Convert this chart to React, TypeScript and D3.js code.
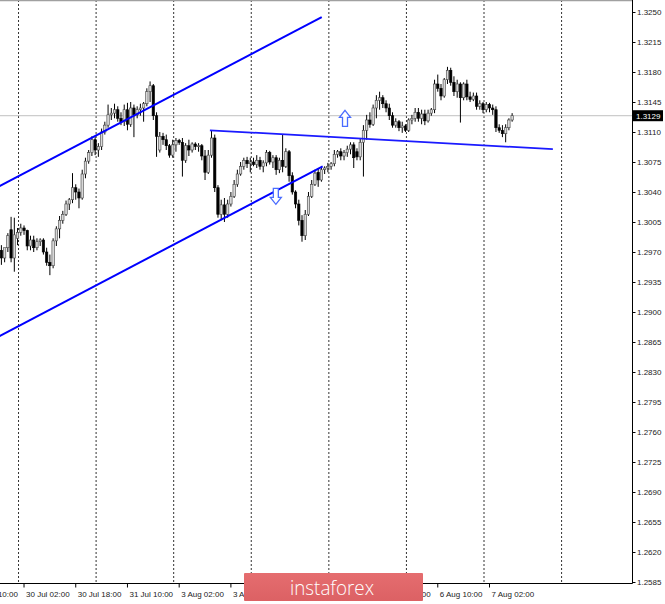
import React from 'react';
import * as d3 from 'd3';

const FIRST_BAR = 8;
const opens = [
  1.2978, 1.2972, 1.2963, 1.2975, 1.2996, 1.2963, 1.2986, 1.2993, 1.2998, 1.2995,
  1.2977, 1.2984, 1.2975, 1.2982, 1.2984, 1.2970, 1.2958, 1.2954, 1.2983, 1.2997,
  1.3007, 1.3014, 1.3026, 1.3031, 1.3045, 1.3040, 1.3033, 1.3061, 1.3076, 1.3086,
  1.3101, 1.3089, 1.3093, 1.3110, 1.3118, 1.3130, 1.3132, 1.3136, 1.3126, 1.3122,
  1.3136, 1.3119, 1.3138, 1.3130, 1.3136, 1.3138, 1.3143, 1.3157, 1.3164, 1.3129,
  1.3089, 1.3105, 1.3101, 1.3094, 1.3083, 1.3095, 1.3100, 1.3098, 1.3077, 1.3094,
  1.3089, 1.3096, 1.3093, 1.3094, 1.3082, 1.3063, 1.3083, 1.3103, 1.3045, 1.3014,
  1.3025, 1.3014, 1.3026, 1.3035, 1.3049, 1.3061, 1.3070, 1.3077, 1.3073, 1.3075,
  1.3072, 1.3077, 1.3070, 1.3074, 1.3086, 1.3075, 1.3080, 1.3066, 1.3077, 1.3070,
  1.3087, 1.3059, 1.3040, 1.3026, 1.3007, 1.2989, 1.3014, 1.3035, 1.3049, 1.3063,
  1.3054, 1.3066, 1.3068, 1.3070, 1.3073, 1.3084, 1.3087, 1.3082, 1.3086, 1.3090,
  1.3095, 1.3087, 1.3081, 1.3098, 1.3112, 1.3124, 1.3119, 1.3138, 1.3147, 1.3150,
  1.3143, 1.3138, 1.3129, 1.3118, 1.3122, 1.3115, 1.3117, 1.3112, 1.3124, 1.3126,
  1.3133, 1.3126, 1.3131, 1.3123, 1.3132, 1.3136, 1.3166, 1.3161, 1.3152, 1.3171,
  1.3182, 1.3168, 1.3157, 1.3166, 1.3150, 1.3166, 1.3151, 1.3148, 1.3152, 1.3140,
  1.3143, 1.3136, 1.3142, 1.3138, 1.3136, 1.3115, 1.3112, 1.3108, 1.3115, 1.3124,
];
const highs = [
  1.2984, 1.2978, 1.2972, 1.2992, 1.3011, 1.3010, 1.2998, 1.3003, 1.3001, 1.2996,
  1.2989, 1.2989, 1.2986, 1.2986, 1.2986, 1.2975, 1.2967, 1.2986, 1.3000, 1.3012,
  1.3018, 1.3030, 1.3033, 1.3062, 1.3049, 1.3044, 1.3066, 1.3080, 1.3089, 1.3105,
  1.3104, 1.3097, 1.3114, 1.3122, 1.3142, 1.3138, 1.3143, 1.3140, 1.3133, 1.3142,
  1.3144, 1.3145, 1.3142, 1.3140, 1.3143, 1.3145, 1.3161, 1.3169, 1.3166, 1.3133,
  1.3110, 1.3109, 1.3107, 1.3096, 1.3101, 1.3103, 1.3102, 1.3103, 1.3097, 1.3101,
  1.3098, 1.3098, 1.3097, 1.3096, 1.3089, 1.3089, 1.3112, 1.3107, 1.3048, 1.3031,
  1.3033, 1.3031, 1.3040, 1.3054, 1.3066, 1.3075, 1.3080, 1.3081, 1.3080, 1.3080,
  1.3083, 1.3081, 1.3077, 1.3089, 1.3088, 1.3083, 1.3083, 1.3080, 1.3107, 1.3091,
  1.3089, 1.3063, 1.3042, 1.3031, 1.3013, 1.3019, 1.3040, 1.3054, 1.3066, 1.3068,
  1.3068, 1.3070, 1.3074, 1.3075, 1.3089, 1.3089, 1.3091, 1.3089, 1.3094, 1.3098,
  1.3098, 1.3091, 1.3103, 1.3118, 1.3130, 1.3133, 1.3142, 1.3153, 1.3157, 1.3153,
  1.3147, 1.3143, 1.3133, 1.3126, 1.3124, 1.3122, 1.3119, 1.3126, 1.3130, 1.3138,
  1.3138, 1.3136, 1.3136, 1.3136, 1.3138, 1.3171, 1.3177, 1.3166, 1.3173, 1.3186,
  1.3185, 1.3175, 1.3171, 1.3168, 1.3168, 1.3171, 1.3157, 1.3156, 1.3156, 1.3147,
  1.3145, 1.3145, 1.3144, 1.3142, 1.3140, 1.3119, 1.3118, 1.3119, 1.3126, 1.3132,
];
const lows = [
  1.2958, 1.2955, 1.2958, 1.2970, 1.2958, 1.2947, 1.2978, 1.2989, 1.2990, 1.2972,
  1.2972, 1.2970, 1.2972, 1.2977, 1.2967, 1.2954, 1.2943, 1.2951, 1.2977, 1.2986,
  1.3003, 1.3012, 1.3019, 1.3027, 1.3031, 1.3021, 1.3031, 1.3056, 1.3073, 1.3082,
  1.3083, 1.3081, 1.3089, 1.3107, 1.3115, 1.3124, 1.3126, 1.3122, 1.3118, 1.3117,
  1.3112, 1.3116, 1.3104, 1.3126, 1.3129, 1.3122, 1.3140, 1.3145, 1.3124, 1.3081,
  1.3086, 1.3095, 1.3089, 1.3080, 1.3080, 1.3087, 1.3095, 1.3058, 1.3074, 1.3082,
  1.3086, 1.3089, 1.3087, 1.3077, 1.3054, 1.3061, 1.3080, 1.3040, 1.3010, 1.3007,
  1.3005, 1.3010, 1.3023, 1.3033, 1.3046, 1.3059, 1.3066, 1.3068, 1.3063, 1.3070,
  1.3068, 1.3066, 1.3063, 1.3070, 1.3072, 1.3068, 1.3060, 1.3062, 1.3063, 1.3068,
  1.3052, 1.3037, 1.3021, 1.3001, 1.2982, 1.2984, 1.3012, 1.3033, 1.3047, 1.3046,
  1.3052, 1.3061, 1.3063, 1.3066, 1.3070, 1.3080, 1.3077, 1.3077, 1.3081, 1.3084,
  1.3068, 1.3077, 1.3077, 1.3058, 1.3101, 1.3115, 1.3117, 1.3126, 1.3136, 1.3138,
  1.3133, 1.3124, 1.3115, 1.3115, 1.3111, 1.3109, 1.3110, 1.3110, 1.3119, 1.3122,
  1.3122, 1.3119, 1.3118, 1.3121, 1.3129, 1.3132, 1.3157, 1.3147, 1.3150, 1.3166,
  1.3164, 1.3152, 1.3150, 1.3121, 1.3147, 1.3147, 1.3145, 1.3146, 1.3136, 1.3136,
  1.3132, 1.3133, 1.3133, 1.3130, 1.3110, 1.3109, 1.3104, 1.3098, 1.3112, 1.3122,
];
const closes = [
  1.2972, 1.2963, 1.2975, 1.2989, 1.2963, 1.2990, 1.2993, 1.2998, 1.2995, 1.2977,
  1.2984, 1.2975, 1.2982, 1.2984, 1.2970, 1.2958, 1.2954, 1.2983, 1.2997, 1.3007,
  1.3014, 1.3026, 1.3031, 1.3045, 1.3040, 1.3033, 1.3061, 1.3076, 1.3086, 1.3101,
  1.3089, 1.3093, 1.3110, 1.3118, 1.3130, 1.3132, 1.3136, 1.3126, 1.3122, 1.3136,
  1.3119, 1.3138, 1.3130, 1.3136, 1.3138, 1.3143, 1.3157, 1.3164, 1.3129, 1.3105,
  1.3105, 1.3101, 1.3094, 1.3083, 1.3095, 1.3100, 1.3098, 1.3077, 1.3094, 1.3089,
  1.3096, 1.3093, 1.3094, 1.3082, 1.3063, 1.3083, 1.3103, 1.3045, 1.3014, 1.3025,
  1.3014, 1.3026, 1.3035, 1.3049, 1.3061, 1.3070, 1.3077, 1.3073, 1.3075, 1.3072,
  1.3077, 1.3070, 1.3074, 1.3086, 1.3075, 1.3080, 1.3066, 1.3077, 1.3070, 1.3087,
  1.3059, 1.3040, 1.3026, 1.3007, 1.2989, 1.3014, 1.3035, 1.3049, 1.3062, 1.3054,
  1.3066, 1.3068, 1.3070, 1.3073, 1.3084, 1.3087, 1.3082, 1.3086, 1.3090, 1.3095,
  1.3080, 1.3081, 1.3098, 1.3112, 1.3124, 1.3119, 1.3138, 1.3147, 1.3150, 1.3143,
  1.3138, 1.3129, 1.3118, 1.3122, 1.3115, 1.3117, 1.3112, 1.3124, 1.3126, 1.3133,
  1.3126, 1.3131, 1.3123, 1.3132, 1.3136, 1.3166, 1.3161, 1.3152, 1.3171, 1.3182,
  1.3168, 1.3157, 1.3166, 1.3150, 1.3166, 1.3151, 1.3148, 1.3152, 1.3140, 1.3143,
  1.3136, 1.3142, 1.3138, 1.3136, 1.3115, 1.3112, 1.3108, 1.3115, 1.3124, 1.3129,
];

const timeLabels = [
  '29 Jul 10:00', '30 Jul 02:00', '30 Jul 18:00', '31 Jul 10:00', '3 Aug 02:00',
  '3 Aug 18:00', '4 Aug 10:00', '5 Aug 02:00', '5 Aug 18:00', '6 Aug 10:00', '7 Aug 02:00',
];
const timeLabelBars = [0, 16, 32, 48, 64, 80, 96, 112, 128, 144, 160];
const priceTicks = [
  1.3250, 1.3215, 1.3180, 1.3145, 1.3110, 1.3075, 1.3040, 1.3005, 1.2970, 1.2935,
  1.2900, 1.2865, 1.2830, 1.2795, 1.2760, 1.2725, 1.2690, 1.2655, 1.2620, 1.2585,
];
const lastPrice = 1.3129;
const channelUpper = [[8.0, 1.3046], [108.1, 1.3244]];
const channelLower = [[8.0, 1.2871], [108.4, 1.3070]];
const resistanceLine = [[73.5, 1.3112], [179.6, 1.3090]];
const upArrows = [{ bar: 115.3, price: 1.3126 }];
const downArrows = [{ bar: 93.9, price: 1.3035 }];
const gridBars = [14.3, 38.3, 62.3, 86.3, 110.3, 134.3, 158.3, 182.3];

const W = 665, H = 604;
const PLOT_R = 632.5, PLOT_B = 583.5;

export default function App() {
  const x = d3.scaleLinear().domain([0, 160]).range([-27.7, 489.5]);
  const y = d3.scaleLinear().domain([1.2585, 1.325]).range([582, 12]);
  const font = "'Liberation Sans', Arial, sans-serif";
  const line = d3.line<number[]>().x((d) => x(d[0])).y((d) => y(d[1]));
  const bodyW = 2.4;

  const arrowUp = (cx: number, cy: number) =>
    `M${cx},${cy - 8} L${cx + 5.5},${cy - 1} L${cx + 2.5},${cy - 1} L${cx + 2.5},${cy + 8} L${cx - 2.5},${cy + 8} L${cx - 2.5},${cy - 1} L${cx - 5.5},${cy - 1} Z`;
  const arrowDown = (cx: number, cy: number) =>
    `M${cx},${cy + 8} L${cx + 5.5},${cy + 1} L${cx + 2.5},${cy + 1} L${cx + 2.5},${cy - 8} L${cx - 2.5},${cy - 8} L${cx - 2.5},${cy + 1} L${cx - 5.5},${cy + 1} Z`;

  return (
    <svg width={W} height={H} style={{ position: 'absolute', left: 0, top: 0, background: '#fff' }}>
      <defs>
        <clipPath id="plot">
          <rect x={0} y={0} width={PLOT_R} height={PLOT_B} />
        </clipPath>
        <linearGradient id="logoGrad" x1="0" y1="0" x2="0" y2="1">
          <stop offset="0" stopColor="#e56d6f" />
          <stop offset="1" stopColor="#dc6164" />
        </linearGradient>
      </defs>
      <rect x={0} y={0} width={W} height={H} fill="#fff" />
      <g clipPath="url(#plot)">
        {gridBars.map((b, i) => (
          <line key={'g' + i} x1={x(b)} x2={x(b)} y1={0} y2={PLOT_B} stroke="#333" strokeWidth={1} strokeDasharray="2,2" />
        ))}
        <line x1={0} x2={PLOT_R} y1={y(lastPrice)} y2={y(lastPrice)} stroke="#c0c0c0" strokeWidth={1} />
        {closes.map((c, k) => {
          const i = FIRST_BAR + k;
          const o = opens[k];
          const cx = x(i);
          const bull = c >= o;
          const top = y(Math.max(o, c));
          const bot = y(Math.min(o, c));
          return (
            <g key={'c' + k}>
              <line x1={cx} x2={cx} y1={y(highs[k])} y2={y(lows[k])} stroke="#000" strokeWidth={1} />
              <rect
                x={cx - bodyW / 2}
                y={top}
                width={bodyW}
                height={Math.max(bot - top, 1)}
                fill={bull ? '#d8d8d8' : '#000'}
                stroke={bull ? '#444' : '#000'}
                strokeWidth={0.6}
              />
            </g>
          );
        })}
        <path d={line(channelUpper) || ''} stroke="#0000ff" strokeWidth={2} fill="none" />
        <path d={line(channelLower) || ''} stroke="#0000ff" strokeWidth={2} fill="none" />
        <path d={line(resistanceLine) || ''} stroke="#1a1aff" strokeWidth={1.7} fill="none" />
        {upArrows.map((a, i) => (
          <path key={'u' + i} d={arrowUp(x(a.bar), y(a.price))} fill="#fff" stroke="#4a6cff" strokeWidth={1.3} />
        ))}
        {downArrows.map((a, i) => (
          <path key={'d' + i} d={arrowDown(x(a.bar), y(a.price))} fill="#fff" stroke="#4a6cff" strokeWidth={1.3} />
        ))}
      </g>
      {/* frame */}
      <line x1={0} x2={PLOT_R} y1={0.5} y2={0.5} stroke="#a0a0a0" strokeWidth={1.5} />
      <line x1={PLOT_R} x2={PLOT_R} y1={0} y2={PLOT_B} stroke="#000" strokeWidth={1} />
      <line x1={0} x2={PLOT_R} y1={PLOT_B} y2={PLOT_B} stroke="#000" strokeWidth={1} />
      {/* price axis */}
      {priceTicks.map((p, i) => (
        <g key={'p' + i}>
          <line x1={PLOT_R} x2={PLOT_R + 3} y1={Math.round(y(p)) + 0.5} y2={Math.round(y(p)) + 0.5} stroke="#000" />
          <text x={637} y={y(p)} dy="0.35em" fontSize={8} fontFamily={font} fill="#222">
            {p.toFixed(4)}
          </text>
        </g>
      ))}
      <rect x={633} y={y(lastPrice) - 5.5} width={30} height={11} fill="#000" />
      <text x={636} y={y(lastPrice)} dy="0.35em" fontSize={8} fontFamily={font} fill="#fff">
        {lastPrice.toFixed(4)}
      </text>
      {/* time axis */}
      {timeLabels.map((t, i) => {
        const tx = x(timeLabelBars[i]);
        return (
          <g key={'t' + i}>
            <line x1={tx} x2={tx} y1={PLOT_B} y2={PLOT_B + 4} stroke="#000" />
            <text x={tx + 2} y={597} fontSize={8} fontFamily={font} fill="#222">
              {t}
            </text>
          </g>
        );
      })}
      {/* logo */}
      <rect x={244} y={573} width={179} height={28} fill="url(#logoGrad)" rx={1} />
      <text
        x={332}
        y={595}
        textAnchor="middle"
        fontSize={21}
        fontFamily="'Open Sans', 'Noto Sans', sans-serif"
        fontWeight={300}
        fill="#fff"
        textLength={84}
        lengthAdjust="spacingAndGlyphs"
      >
        instaforex
      </text>
    </svg>
  );
}
